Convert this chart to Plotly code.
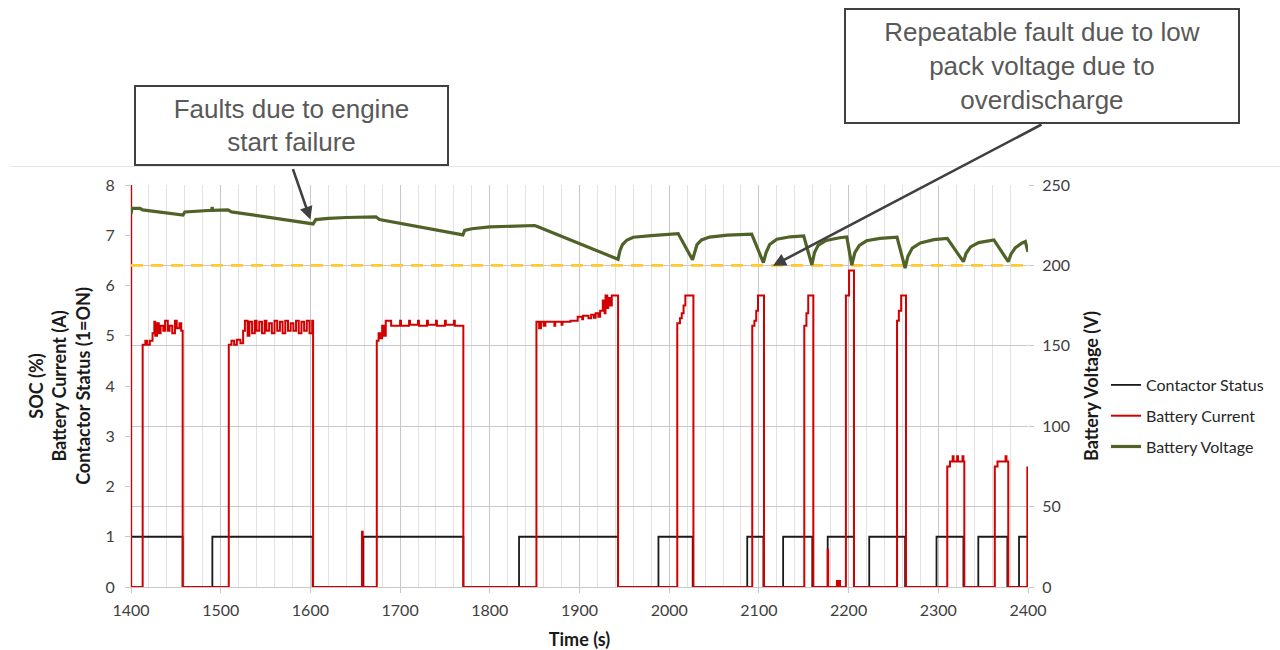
import plotly.graph_objects as go

# ---- Contactor status (0/1), step changes: time (s) -> state
contactor_t = [1400, 1457.6, 1490.7, 1602.5, 1659, 1770.5, 1832.6, 1943, 1988, 2026.2,
               2087, 2105, 2127, 2159.5, 2176.7, 2206, 2223, 2263, 2298, 2328,
               2344.6, 2377, 2390, 2400]
contactor_v = [1, 0, 1, 0, 1, 0, 1, 0, 1, 0,
               1, 0, 1, 0, 1, 0, 1, 0, 1, 0,
               1, 0, 1, 1]

# ---- Battery current (A), step changes: time (s) -> current
current_t = [1400, 1400.2,
             1413, 1416, 1418, 1421, 1424, 1426, 1427, 1429, 1431, 1433, 1436, 1438, 1441, 1443, 1446, 1449, 1451, 1454, 1456, 1457.6,
             1509, 1512, 1515, 1518, 1522, 1525, 1527, 1530, 1532, 1535, 1538, 1540, 1543, 1546, 1549, 1551, 1554, 1557,
             1560, 1563, 1566, 1569, 1572, 1575, 1578, 1581, 1584, 1587, 1590, 1593, 1596, 1599, 1602,
             1603, 1657.5, 1658.3,
             1674, 1676, 1678, 1680, 1682, 1684, 1690, 1700, 1701, 1710, 1711, 1720, 1721, 1730, 1731, 1740, 1741, 1750, 1751, 1760, 1761, 1770.5,
             1852, 1855, 1857, 1860, 1862, 1872, 1873, 1880, 1881, 1890, 1898, 1903, 1904, 1910, 1913, 1916, 1918, 1921, 1923,
             1926, 1928, 1929, 1931, 1932, 1934, 1936, 1943,
             2009, 2012, 2014, 2016, 2018, 2027,
             2092.6, 2095, 2097, 2099, 2105.7,
             2150.6, 2153, 2155, 2160.7,
             2176.7, 2177.2, 2187, 2188, 2189.5, 2190.5,
             2197, 2200.5, 2206,
             2254, 2256, 2258.6, 2264,
             2310, 2313, 2316, 2317, 2321, 2322, 2327, 2328, 2329,
             2363, 2366, 2375, 2376, 2378,
             2399.3]
current_v = [8.5, 0,
             4.82, 4.9, 4.82, 4.9, 5.05, 5.28, 5.0, 5.25, 5.05, 5.2, 5.1, 5.3, 5.1, 5.2, 5.05, 5.3, 5.15, 5.25, 5.1, 0,
             4.82, 4.9, 4.82, 4.92, 4.85, 5.1, 5.3, 5.0, 5.28, 5.05, 5.3, 5.1, 5.28, 5.05, 5.3, 5.1, 5.25, 5.05,
             5.3, 5.1, 5.28, 5.05, 5.3, 5.1, 5.25, 5.1, 5.3, 5.05, 5.28, 5.1, 5.3, 5.05, 5.3,
             0, 1.1, 0,
             4.9, 5.05, 4.95, 5.2, 5.0, 5.3, 5.2, 5.3, 5.2, 5.3, 5.22, 5.3, 5.2, 5.3, 5.22, 5.3, 5.2, 5.3, 5.22, 5.3, 5.2, 0,
             5.28, 5.15, 5.28, 5.2, 5.28, 5.2, 5.28, 5.22, 5.28, 5.3, 5.38, 5.33, 5.4, 5.35, 5.42, 5.36, 5.45, 5.38, 5.5,
             5.7, 5.45, 5.8, 5.55, 5.75, 5.6, 5.8, 0,
             5.25, 5.35, 5.45, 5.6, 5.8, 0,
             5.2, 5.3, 5.5, 5.8, 0,
             5.2, 5.45, 5.8, 0,
             0.74, 0, 0.12, 0, 0.12, 0,
             5.8, 6.3, 0,
             5.3, 5.5, 5.8, 0,
             2.4, 2.5, 2.6, 2.5, 2.6, 2.5, 2.6, 2.5, 0,
             2.4, 2.5, 2.6, 2.5, 0,
             2.4]

# ---- Battery voltage (V)
voltage_t = [1400, 1401, 1410, 1413, 1458, 1460, 1490, 1490.5, 1491, 1508, 1512,
             1600, 1603, 1606, 1620, 1640, 1673, 1677,
             1770, 1772, 1780, 1800, 1850, 1853,
             1943, 1945, 1948, 1953, 1960, 1980, 2008, 2010,
             2026, 2028, 2031, 2036, 2045, 2065, 2092,
             2105, 2108, 2112, 2120, 2135, 2150,
             2159, 2162, 2166, 2175, 2190, 2198,
             2203.5, 2207, 2212, 2220, 2235, 2254,
             2263, 2266, 2271, 2280, 2295, 2310,
             2328, 2331, 2336, 2345, 2362,
             2378, 2381, 2386, 2393, 2397, 2400]
voltage_v = [232, 235.5, 235.5, 234.5, 231.3, 233.2, 234.3, 236.3, 234.3, 234.5, 233.3,
             226.3, 225.8, 228.5, 229.3, 229.8, 230.2, 228.5,
             219, 221.8, 222.8, 224, 224.8, 224.2,
             203.8, 209, 213, 215.8, 217.5, 218.5, 219.8, 219.8,
             203.5, 208, 213, 215.8, 217.6, 218.8, 219.4,
             201.7, 208, 213, 216.3, 217.8, 218.3,
             200.3, 208, 212.5, 215.5, 217.2, 217.7,
             200.2, 208, 212.5, 215.3, 216.8, 217.5,
             198.3, 205.5, 210.8, 214, 216, 216.8,
             202.3, 207.5, 211.5, 214.2, 215.8,
             202.3, 207, 211, 213.8, 214.8, 208.5]

low_voltage_limit = 200
time_range = [1400, 2400]

FONT = "Lato"
BOX_FONT = "Liberation Sans"

fig = go.Figure()

fig.add_trace(go.Scatter(
    x=contactor_t, y=contactor_v, name="Contactor Status", mode="lines",
    line=dict(color="#1a1a1a", width=1.8, shape="hv"), legendgroup="a"))
fig.add_trace(go.Scatter(
    x=current_t, y=current_v, name="Battery Current", mode="lines",
    line=dict(color="#d20000", width=2, shape="hv"), legendgroup="b"))
fig.add_trace(go.Scatter(
    x=time_range, y=[low_voltage_limit, low_voltage_limit], yaxis="y2", mode="lines",
    line=dict(color="#ffc82e", width=2.6, dash="12px,8px"), showlegend=False, hoverinfo="skip"))
fig.add_trace(go.Scatter(
    x=voltage_t, y=voltage_v, name="Battery Voltage", mode="lines", yaxis="y2",
    line=dict(color="#4f6228", width=3.2), legendgroup="c"))

L, R, T, B = 131, 252, 185, 63
W, H = 1280, 650
pw, ph = W - L - R, H - T - B


def px(x):
    return (x - L) / pw


def py(y):
    return (H - B - y) / ph


fig.update_layout(
    width=W, height=H,
    margin=dict(l=L, r=R, t=T, b=B, pad=0, autoexpand=False),
    paper_bgcolor="white", plot_bgcolor="white",
    font=dict(family=FONT, size=16, color="#404040"),
    showlegend=True,
    legend=dict(x=px(1106), xanchor="left", y=py(416), yanchor="middle",
                font=dict(family=FONT, size=16, color="#262626"),
                tracegroupgap=7, bgcolor="rgba(0,0,0,0)"),
    xaxis=dict(range=time_range, dtick=100, tick0=1400, automargin=False,
               showgrid=True, gridcolor="#c8c8c8", gridwidth=1,
               minor=dict(dtick=20, showgrid=True, gridcolor="#e2e2e2", gridwidth=1),
               showline=True, linecolor="#c8c8c8", linewidth=1,
               ticks="outside", ticklen=5, tickcolor="#c8c8c8",
               ticklabelstandoff=4,
               tickfont=dict(size=16, color="#404040"),
               title=dict(text="<b>Time (s)</b>", font=dict(size=18, color="#1a1a1a"), standoff=16),
               zeroline=False),
    yaxis=dict(range=[0, 8], dtick=1, showgrid=False, zeroline=False, automargin=False,
               showline=True, linecolor="#d8d8d8", linewidth=1,
               ticks="outside", ticklen=5, tickcolor="#c8c8c8",
               ticklabelstandoff=7,
               tickfont=dict(size=16, color="#404040"),
               title=dict(text="<b>SOC (%)<br>Battery Current (A)<br>Contactor Status (1=ON)</b>",
                          font=dict(size=18, color="#1a1a1a"), standoff=10)),
    yaxis2=dict(range=[0, 250], dtick=50, overlaying="y", side="right", automargin=False,
                showgrid=True, gridcolor="#c8c8c8", gridwidth=1, zeroline=False,
                showline=False,
                ticks="outside", ticklen=5, tickcolor="#c8c8c8",
                ticklabelstandoff=5,
                tickfont=dict(size=16, color="#404040"),
                title=dict(text="<b>Battery Voltage (V)</b>",
                           font=dict(size=18, color="#1a1a1a"), standoff=16)),
)

# faint separator rule across the page above the plot
fig.add_shape(type="line", xref="paper", yref="paper",
              x0=px(10), x1=px(1280), y0=py(166.5), y1=py(166.5),
              line=dict(color="#e6e6e6", width=1), layer="below")

# callout arrows
fig.add_annotation(x=1600, y=228.5, xref="x", yref="y2", text="", showarrow=True,
                   ax=-18, ay=-52, arrowhead=2, arrowsize=1, arrowwidth=2.6,
                   arrowcolor="#404040", standoff=0)
fig.add_annotation(x=2115.7, y=199.8, xref="x", yref="y2", text="", showarrow=True,
                   ax=270, ay=-142, arrowhead=2, arrowsize=1, arrowwidth=2.6,
                   arrowcolor="#404040", standoff=0)

# callout boxes
fig.add_annotation(x=px(291.5), y=py(125.5), xref="paper", yref="paper",
                   xanchor="center", yanchor="middle", showarrow=False,
                   text="Faults due to engine<br>start failure",
                   font=dict(family=BOX_FONT, size=26, color="#595959"),
                   width=311, height=77, bgcolor="white",
                   bordercolor="#404040", borderwidth=2, borderpad=0)
fig.add_annotation(x=px(1042), y=py(66), xref="paper", yref="paper",
                   xanchor="center", yanchor="middle", showarrow=False,
                   text="Repeatable fault due to low<br>pack voltage due to<br>overdischarge",
                   font=dict(family=BOX_FONT, size=26, color="#595959"),
                   width=392, height=112, bgcolor="white",
                   bordercolor="#404040", borderwidth=2, borderpad=0)

fig.write_html("out.html")
